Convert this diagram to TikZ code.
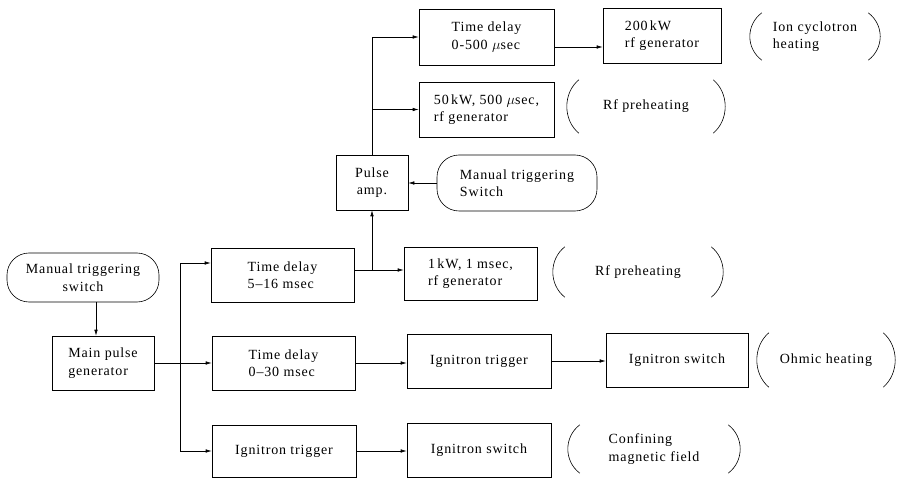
\documentclass[tikz,border=0pt]{standalone}
\usepackage{fontspec}
\setmainfont{Liberation Serif}[LetterSpace=6]
\usetikzlibrary{arrows.meta,calc}
\newcommand{\drawparens}[1]{%
  \draw[paren] ($(#1.north west)+(12,0)$)
     .. controls ($(#1.north west)!0.25!(#1.south west)+(-4,0)$) and ($(#1.north west)!0.75!(#1.south west)+(-4,0)$)
     .. ($(#1.south west)+(12,0)$);
  \draw[paren] ($(#1.north east)+(-12,0)$)
     .. controls ($(#1.north east)!0.25!(#1.south east)+(4,0)$) and ($(#1.north east)!0.75!(#1.south east)+(4,0)$)
     .. ($(#1.south east)+(-12,0)$);}
\begin{document}
\begin{tikzpicture}[x=1pt,y=-1pt,
  font=\fontsize{14}{17.5}\selectfont,
  box/.style={draw, line width=0.6pt, inner sep=0pt, align=left},
  rbox/.style={box, rounded corners=22pt},
  plabel/.style={inner sep=0pt, align=left},
  paren/.style={line width=0.6pt},
  arr/.style={line width=0.6pt, -{Latex[length=6pt,width=3.5pt]}},
  ln/.style={line width=0.6pt}]
\useasboundingbox (0,0) rectangle (920,478);

% left column
\node[rbox, align=center, minimum width=152, minimum height=49] (ms1) at (83,277.5) {Manual triggering\\switch};
\node[box, minimum width=102, minimum height=54] (mpg) at (103,363) {Main pulse\\generator};

% second column
\node[box, minimum width=143, minimum height=54] (td1) at (282.5,275) {Time delay\\5--16 msec};
\node[box, minimum width=143, minimum height=54] (td2) at (283.5,363) {Time delay\\0--30 msec};
\node[box, minimum width=144, minimum height=52] (it1) at (284,451) {Ignitron trigger};

% pulse amp and manual switch
\node[box, align=center, minimum width=72, minimum height=55] (pa) at (372,182.5) {Pulse\\amp.};
\node[rbox, minimum width=160, minimum height=56] (ms2) at (517,183) {Manual triggering\\Switch};

% third column
\node[box, minimum width=135, minimum height=56] (td3) at (486.5,37) {Time delay\\0-500 $\mu$sec};
\node[box, minimum width=135, minimum height=55] (rf50) at (486.5,109.5) {50\,kW, 500 $\mu$sec,\\rf generator};
\node[box, minimum width=133, minimum height=53] (rf1) at (470.5,273.5) {1\,kW, 1 msec,\\rf generator};
\node[box, minimum width=144, minimum height=54] (it2) at (479,361) {Ignitron trigger};
\node[box, minimum width=144, minimum height=54] (is2) at (479,450) {Ignitron switch};

% fourth column
\node[box, minimum width=118, minimum height=55] (rf200) at (662,35.5) {200\,kW\\rf generator};
\node[box, minimum width=142, minimum height=54] (is1) at (677,360) {Ignitron switch};

% parenthesised labels
\node[plabel, minimum width=130, minimum height=47] (ion) at (815,36.5) {Ion cyclotron\\heating};
\node[plabel, minimum width=158, minimum height=53] (rfp1) at (646,106.5) {Rf preheating};
\node[plabel, minimum width=170, minimum height=50] (rfp2) at (638,272) {Rf preheating};
\node[plabel, minimum width=138, minimum height=54] (ohm) at (826,360) {Ohmic heating};
\node[plabel, minimum width=172, minimum height=48] (conf) at (654,449) {Confining\\magnetic field};
\drawparens{ion}
\drawparens{rfp1}
\drawparens{rfp2}
\drawparens{ohm}
\drawparens{conf}

% connectors
\draw[arr] (ms1.south -| 96,0) -- (mpg.north -| 96,0);
\draw[arr] (mpg.east) -- (td2.west);
\coordinate (jm) at (mpg.east -| 180,0);
\draw[arr] (jm) |- ($(td1.west)+(0,-12)$);
\draw[arr] (jm) |- (it1.west);
\draw[arr] (td2.east) -- (td2.east -| it2.west);
\draw[arr] (it2.east) -- (it2.east -| is1.west);
\draw[arr] (it1.east) -- (it1.east -| is2.west);
\coordinate (t1o) at ($(td1.east)+(0,-5)$);
\draw[arr] (t1o) -- (t1o -| rf1.west);
\coordinate (j1) at (t1o -| pa.south);
\draw[arr] (j1) -- (pa.south);
\draw[arr] (ms2.west) -- (ms2.west -| pa.east);
\draw[arr] (pa.north) |- (td3.west);
\draw[arr] (pa.north |- rf50.west) -- (rf50.west);
\coordinate (t3o) at ($(td3.east)+(0,10)$);
\draw[arr] (t3o) -- (t3o -| rf200.west);
\end{tikzpicture}
\end{document}
